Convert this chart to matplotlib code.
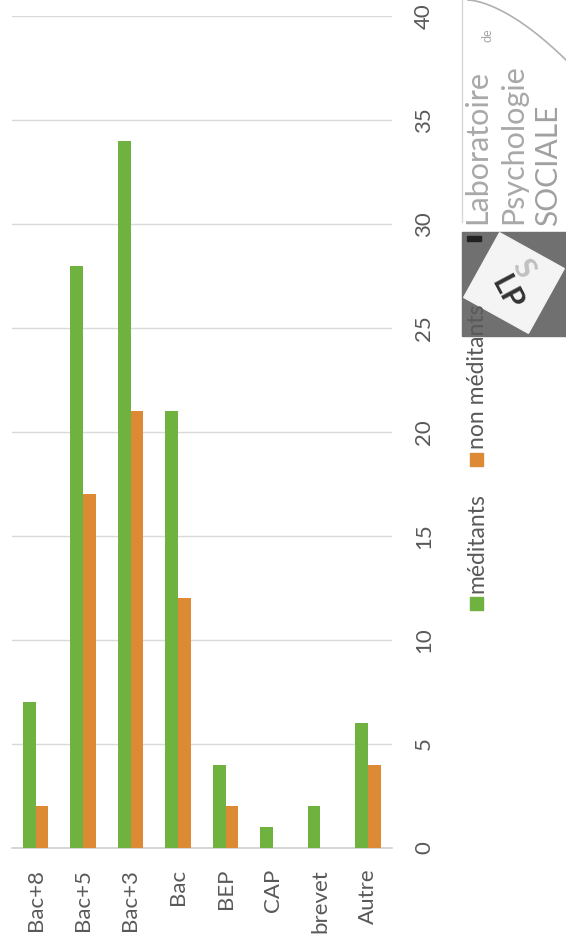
import matplotlib.pyplot as plt
import matplotlib.patches as mpatches
import numpy as np

plt.rcParams['font.family'] = ['Lato', 'DejaVu Sans']

categories = ["Bac+8", "Bac+5", "Bac+3", "Bac", "BEP", "CAP", "brevet", "Autre"]
meditants = [7, 28, 34, 21, 4, 1, 2, 6]
non_meditants = [2, 17, 21, 12, 2, 0, 0, 4]
yticks = [0, 5, 10, 15, 20, 25, 30, 35, 40]

green = "#6fb23f"
orange = "#dc8a33"
grey_txt = "#595959"

W, H = 566, 944
fig = plt.figure(figsize=(W / 100, H / 100), dpi=100)

# main chart (everything is turned 90 degrees, like the source picture)
ax = fig.add_axes([11.75 / W, 1 - 848 / H, 380 / W, 832 / H])
x = np.arange(len(categories))
bw = 0.265
ax.bar(x - bw / 2, meditants, bw, color=green, zorder=3)
ax.bar(x + bw / 2, non_meditants, bw, color=orange, zorder=3)
ax.set_xlim(-0.5, len(categories) - 0.5)
ax.set_ylim(0, 40)
ax.set_yticks(yticks)
ax.yaxis.tick_right()
ax.grid(axis="y", color="#d9d9d9", lw=1, zorder=0)
for s in ["top", "left", "right"]:
    ax.spines[s].set_visible(False)
ax.spines["bottom"].set_color("#d0d0d0")
ax.spines["bottom"].set_linewidth(1.2)
ax.tick_params(axis="y", length=0, pad=16, labelsize=16, labelcolor=grey_txt, labelrotation=90)
for lab in ax.get_yticklabels():
    lab.set_va("center")
ax.set_xticks(x)
ax.set_xticklabels(categories)
ax.tick_params(axis="x", length=0, pad=15, labelsize=16, labelcolor=grey_txt)
for lab in ax.get_xticklabels():
    lab.set_rotation(90)
    lab.set_va("top")
    lab.set_ha("center")

# legend, drawn by hand because it is rotated
ov = fig.add_axes([0, 0, 1, 1])
ov.set_xlim(0, W)
ov.set_ylim(H, 0)
ov.axis("off")
ov.add_patch(mpatches.Rectangle((470, 597), 13, 13, color=green))
ov.text(477, 593, "méditants", rotation=90, ha="center", va="bottom", fontsize=16.5, color=grey_txt)
ov.add_patch(mpatches.Rectangle((470, 453), 13, 13, color=orange))
ov.text(477, 449, "non méditants", rotation=90, ha="center", va="bottom", fontsize=16.5, color=grey_txt)

# logo (rough drawing)
ov.plot([462, 462], [0, 222], color="#d8d8d8", lw=1)
t = np.linspace(0, 1, 30)
ov.plot(468 + 98 * t, 0 + 60 * t ** 1.6, color="#b0b0b0", lw=1.2)
ov.text(477, 224, "Laboratoire", rotation=90, ha="center", va="bottom", fontsize=22, color="#a8a8a8")
ov.text(487, 42, "de", rotation=90, ha="center", va="bottom", fontsize=9, color="#a8a8a8")
ov.text(513, 224, "Psychologie", rotation=90, ha="center", va="bottom", fontsize=22, color="#a8a8a8")
ov.text(548, 226, "SOCIALE", rotation=90, ha="center", va="bottom", fontsize=21.5, color="#a0a0a0")
ov.add_patch(mpatches.Rectangle((462, 232), 104, 104, color="#707070"))
ov.add_patch(mpatches.Rectangle((467, 236), 14, 5, color="#222222"))
sq = mpatches.Rectangle((477, 246), 74, 74, angle=29, color="#f4f4f4",
                        rotation_point="center")
ov.add_patch(sq)
ov.text(507, 293, "LP", rotation=-62, ha="center", va="center", fontsize=22,
        fontweight="bold", color="#333333")
ov.text(523, 268, "S", rotation=-62, ha="center", va="center", fontsize=22,
        fontweight="bold", color="#c0c0c0")

fig.savefig("out.png", dpi=100)
